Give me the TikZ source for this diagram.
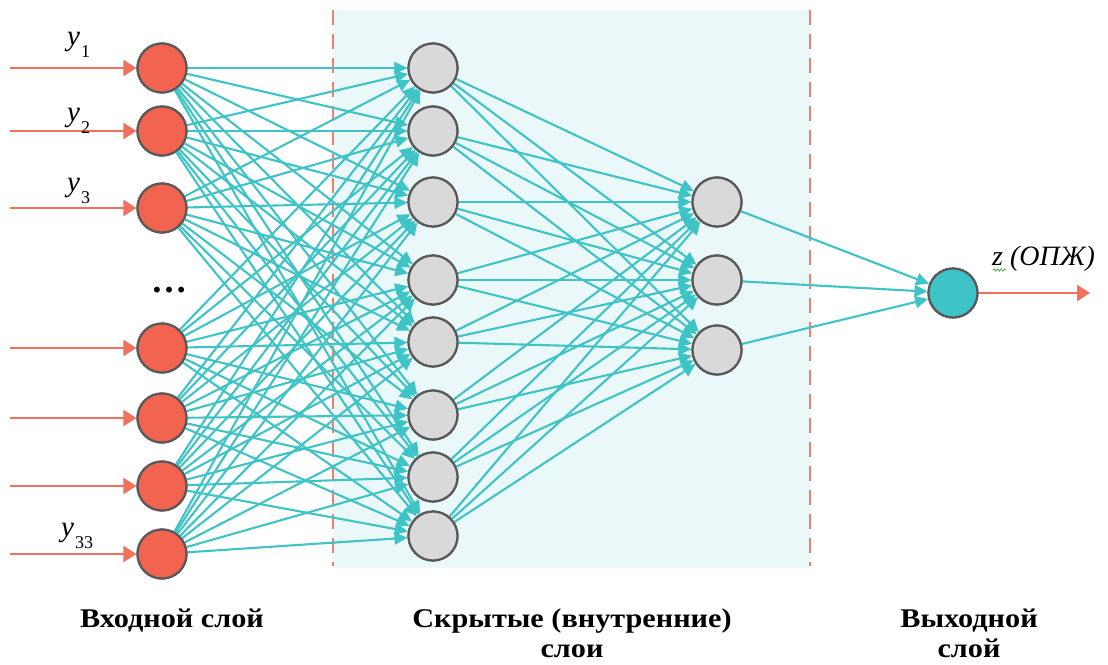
\documentclass[tikz,border=0pt]{standalone}
\usepackage{fontspec}
\setmainfont{Liberation Serif}
\newfontfamily\lblfont[FakeStretch=1.12]{Liberation Serif}
\usetikzlibrary{arrows.meta,decorations.pathmorphing}
\definecolor{inred}{HTML}{F26450}
\definecolor{arrred}{HTML}{F4705E}
\definecolor{tealc}{HTML}{3EC3C6}
\definecolor{hgray}{HTML}{D9D9D9}
\definecolor{bord}{HTML}{595959}
\definecolor{bgc}{HTML}{EAF8F9}
\definecolor{dashc}{HTML}{F07F6E}
\definecolor{spellg}{HTML}{5FA85F}
\tikzset{
 neuron/.style={circle,draw=bord,line width=2.2pt,minimum size=49pt,inner sep=0pt},
 inneuron/.style={neuron,fill=inred},
 hidneuron/.style={neuron,fill=hgray},
 outneuron/.style={neuron,fill=tealc},
 conn/.style={tealc,line width=2.1pt,-{Triangle[length=13pt,width=12pt]}},
 inarrow/.style={arrred,line width=2.6pt,-{Triangle[length=13pt,width=16pt]}},
 layerlabel/.style={font=\lblfont\bfseries\fontsize{27}{33}\selectfont,align=center,inner sep=0pt},
 ylab/.style={font=\fontsize{29}{30}\selectfont,inner sep=0pt,anchor=base west},
 sepline/.style={dashc,line width=1.8pt,dash pattern=on 15pt off 9pt}
}
\newcommand{\ysub}[1]{{\itshape y}\kern1pt\raisebox{-12pt}{\fontsize{18}{18}\selectfont #1}}
\begin{document}
\begin{tikzpicture}[x=1pt,y=-1pt]
\useasboundingbox (0,0) rectangle (1108,664);
% background of hidden layers
\fill[bgc] (333,10) rectangle (810,568);
\draw[sepline] (333,10) -- (333,566);
\draw[sepline] (810,10) -- (810,566);
% input nodes
\foreach \i/\y in {1/68,2/131,3/208,4/348,5/418,6/486,7/554}{
  \node[inneuron] (i\i) at (162,\y) {};
  \coordinate (s\i) at (10,\y);
}
% hidden layer 1
\foreach \j/\y in {1/68,2/131,3/202,4/280,5/342,6/415,7/477,8/536}{
  \node[hidneuron] (h\j) at (433,\y) {};
}
% hidden layer 2
\foreach \k/\y in {1/202,2/280,3/350}{
  \node[hidneuron] (g\k) at (717,\y) {};
}
% output
\node[outneuron] (o) at (953,293) {};
\coordinate (oend) at (1090,293);
% connections
\foreach \i in {1,...,7}{
  \foreach \j in {1,...,8}{
    \draw[conn] (i\i) -- (h\j);
  }
}
\foreach \j in {1,...,8}{
  \foreach \k in {1,2,3}{
    \draw[conn] (h\j) -- (g\k);
  }
}
\foreach \k in {1,2,3}{
  \draw[conn] (g\k) -- (o);
}
% input arrows
\foreach \i in {1,...,7}{
  \draw[inarrow] (s\i) -- (i\i);
}
\draw[inarrow] (o) -- (oend);
% redraw nodes on top
\foreach \i/\y in {1/68,2/131,3/208,4/348,5/418,6/486,7/554}{
  \node[inneuron] at (162,\y) {};
}
\foreach \j/\y in {1/68,2/131,3/202,4/280,5/342,6/415,7/477,8/536}{
  \node[hidneuron] at (433,\y) {};
}
\foreach \k/\y in {1/202,2/280,3/350}{
  \node[hidneuron] at (717,\y) {};
}
\node[outneuron] at (953,293) {};
% labels
\node[ylab] (ly1) at (67,45) {\ysub{1}};
\node[ylab] (ly2) at (67,121) {\ysub{2}};
\node[ylab] (ly3) at (67,191) {\ysub{3}};
\node[ylab] (ly33) at (61,536) {\ysub{33}};
\node[font=\bfseries\fontsize{36}{36}\selectfont,inner sep=0pt,anchor=base] (dots) at (169,292) {\dots};
\node[font=\itshape\fontsize{28}{30}\selectfont,inner sep=0pt,anchor=base west] (zl) at (992,265) {z (ОПЖ)};
\draw[spellg,line width=0.9pt,decorate,decoration={snake,amplitude=1.1pt,segment length=3.5pt}] (993,270) -- (1006,270);
\node[layerlabel,anchor=base] (l1) at (172,627) {Входной слой};
\node[layerlabel,anchor=base] (l2) at (572,627) {Скрытые (внутренние)};
\node[layerlabel,anchor=base] (l2b) at (572,657) {слои};
\node[layerlabel,anchor=base] (l3) at (969,627) {Выходной};
\node[layerlabel,anchor=base] (l3b) at (969,657) {слой};
\end{tikzpicture}
\end{document}
